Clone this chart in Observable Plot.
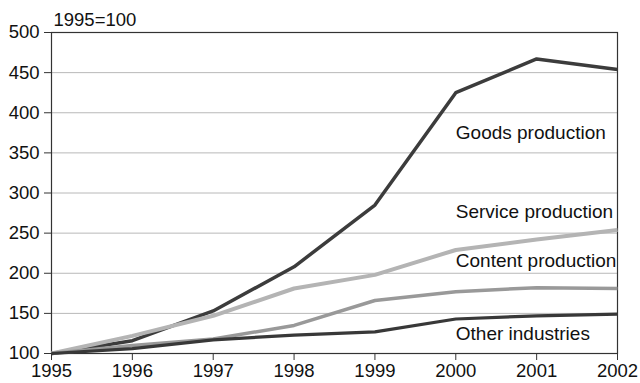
<!DOCTYPE html>
<html>
<head>
<meta charset="utf-8">
<script src="https://cdn.jsdelivr.net/npm/d3@7"></script>
<script src="https://cdn.jsdelivr.net/npm/@observablehq/plot@0.6"></script>
<style>
  html, body { margin: 0; padding: 0; background: #fff; }
  #chart svg { display: block; }
</style>
</head>
<body>
<div id="chart"></div>
<script>
const years = [1995, 1996, 1997, 1998, 1999, 2000, 2001, 2002];
const goods   = [100, 116, 153, 208, 285, 425, 467, 454];
const service = [100, 122, 147, 181, 198, 229, 242, 254];
const content = [100, 110, 118, 135, 166, 177, 182, 181];
const other   = [100, 106, 117, 123, 127, 143, 147, 149];

const seriesNames = ["Goods production", "Service production", "Content production", "Other industries"];
const seriesValues = [goods, service, content, other];
const seriesColors = ["#3c3c3c", "#b4b4b4", "#999999", "#383838"];
const seriesWidths = [3.5, 4, 3.5, 3.2];

const labelYears = [2000, 2000, 2000, 2000];
const labelValues = [375, 276, 215, 125];

const yTicks = [100, 150, 200, 250, 300, 350, 400, 450, 500];
const gridTicks = [150, 200, 250, 300, 350, 400, 450];

const rows = [];
seriesNames.forEach((name, i) => {
  years.forEach((yr, j) => rows.push({series: name, year: yr, value: seriesValues[i][j]}));
});
const labels = seriesNames.map((name, i) => ({series: name, year: labelYears[i], value: labelValues[i]}));

const chart = Plot.plot({
  width: 640,
  height: 383,
  marginLeft: 51,
  marginRight: 23,
  marginTop: 32,
  marginBottom: 30,
  style: {fontFamily: "'Liberation Sans', Arial, sans-serif", fontSize: "18px", color: "#222", background: "#fff"},
  x: {domain: [1995, 2002], ticks: years, tickFormat: d => String(d), label: null},
  y: {domain: [100, 500], ticks: yTicks, label: null},
  marks: [
    Plot.ruleY(gridTicks, {stroke: "#b8b8b8", strokeWidth: 1}),
    Plot.frame({stroke: "#333", strokeWidth: 1.2}),
    ...seriesNames.map((name, i) =>
      Plot.line(rows.filter(d => d.series === name), {
        x: "year", y: "value",
        stroke: seriesColors[i], strokeWidth: seriesWidths[i],
        strokeLinejoin: "round", strokeLinecap: "butt"
      })
    ),
    Plot.text(labels, {x: "year", y: "value", text: "series", textAnchor: "start", fontSize: 19, fill: "#111"}),
    Plot.text(["1995=100"], {frameAnchor: "top-left", dx: 2, dy: -20, textAnchor: "start", fontSize: 18.5, fill: "#111"}),
    Plot.axisX({ticks: years, tickFormat: d => String(d), tickSize: 7, tickPadding: 3, fontSize: 18.5, stroke: "#333", fill: "#111"}),
    Plot.axisY({ticks: yTicks, tickSize: 7, tickPadding: 5, fontSize: 18.5, stroke: "#333", fill: "#111"})
  ]
});
document.getElementById("chart").appendChild(chart);
</script>
</body>
</html>
